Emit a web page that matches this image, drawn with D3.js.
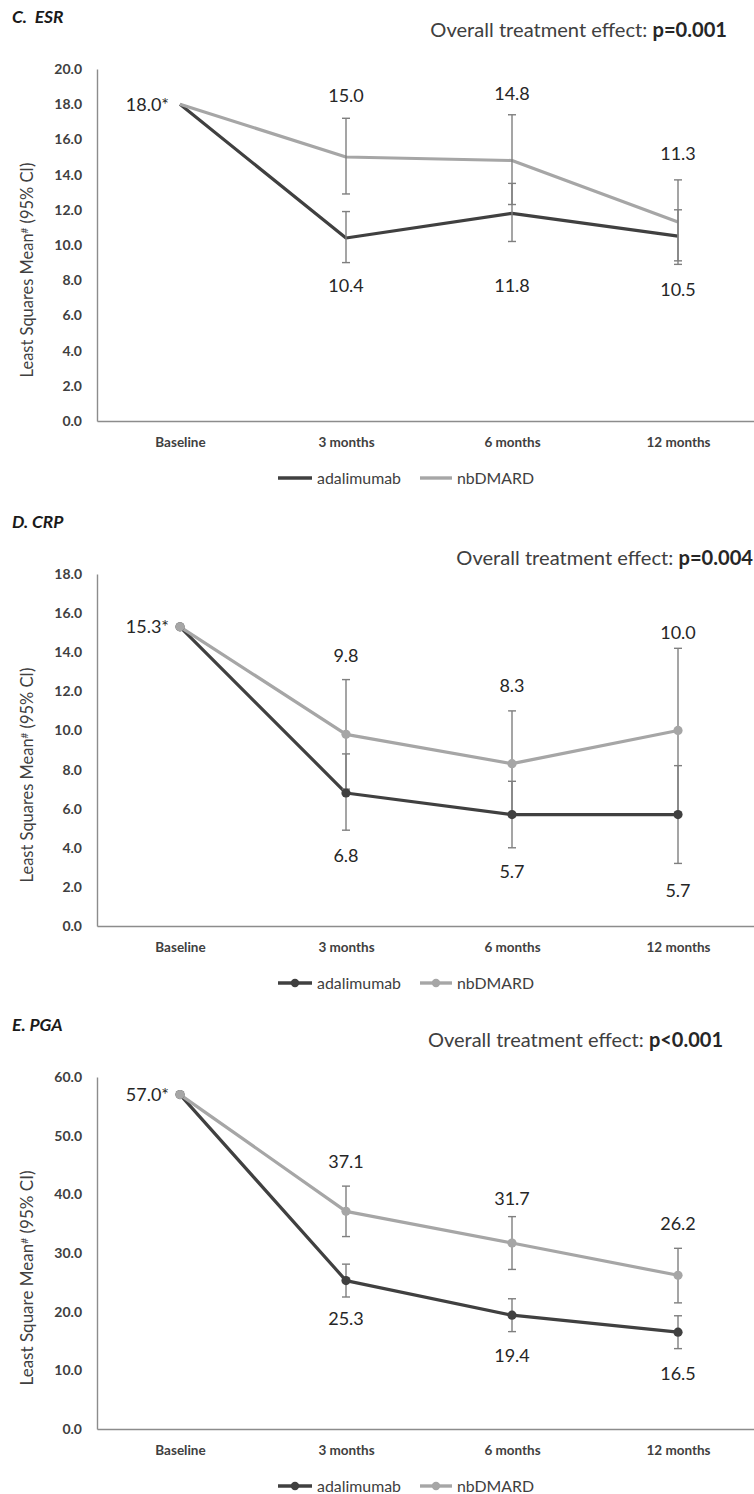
<!DOCTYPE html>
<html>
<head>
<meta charset="utf-8">
<script src="https://cdn.jsdelivr.net/npm/d3@7"></script>
<style>
  body { margin: 0; background: #fff; }
  svg { display: block; }
  text { font-family: Lato, "Open Sans", "DejaVu Sans", sans-serif; }
</style>
</head>
<body>
<svg id="chart" width="754" height="1494"></svg>
<script>
// ---- data ----
const categories = ["Baseline", "3 months", "6 months", "12 months"];
const seriesNames = ["adalimumab", "nbDMARD"];

// ESR
const esrAdalimumab = [18.0, 10.4, 11.8, 10.5];
const esrAdalimumabLow = [null, 9.0, 10.2, 9.1];
const esrAdalimumabHigh = [null, 11.9, 13.5, 12.0];
const esrNbDMARD = [18.0, 15.0, 14.8, 11.3];
const esrNbDMARDLow = [null, 12.9, 12.3, 8.9];
const esrNbDMARDHigh = [null, 17.2, 17.4, 13.7];
const esrTicks = [0, 2, 4, 6, 8, 10, 12, 14, 16, 18, 20];

// CRP
const crpAdalimumab = [15.3, 6.8, 5.7, 5.7];
const crpAdalimumabLow = [null, 4.9, 4.0, 3.2];
const crpAdalimumabHigh = [null, 8.8, 7.4, 8.2];
const crpNbDMARD = [15.3, 9.8, 8.3, 10.0];
const crpNbDMARDLow = [null, 7.0, 5.6, 5.8];
const crpNbDMARDHigh = [null, 12.6, 11.0, 14.2];
const crpTicks = [0, 2, 4, 6, 8, 10, 12, 14, 16, 18];

// PGA
const pgaAdalimumab = [57.0, 25.3, 19.4, 16.5];
const pgaAdalimumabLow = [null, 22.5, 16.6, 13.7];
const pgaAdalimumabHigh = [null, 28.1, 22.2, 19.3];
const pgaNbDMARD = [57.0, 37.1, 31.7, 26.2];
const pgaNbDMARDLow = [null, 32.8, 27.2, 21.5];
const pgaNbDMARDHigh = [null, 41.4, 36.2, 30.8];
const pgaTicks = [0, 10, 20, 30, 40, 50, 60];

const panelTitles = ["C.\u00a0 ESR", "D. CRP", "E. PGA"];
const pValues = ["p=0.001", "p=0.004", "p<0.001"];
const yTitles = ["Least Squares Mean", "Least Squares Mean", "Least Square Mean"];

// ---- layout ----
// value-label distance (px) from the end of each error bar
const esrLabelGapAda = [0, 23, 44, 29];
const esrLabelGapNb = [0, 23, 21, 26];
const crpLabelGapAda = [0, 26, 24, 27];
const crpLabelGapNb = [0, 24, 25, 16];
const pgaLabelGapAda = [0, 22, 24, 25];
const pgaLabelGapNb = [0, 24, 18, 25];

const panels = [
  { title: panelTitles[0], p: pValues[0], yTitle: yTitles[0], ticks: esrTicks, markers: false,
    ada: esrAdalimumab, adaLow: esrAdalimumabLow, adaHigh: esrAdalimumabHigh,
    nb: esrNbDMARD, nbLow: esrNbDMARDLow, nbHigh: esrNbDMARDHigh,
    gapAda: esrLabelGapAda, gapNb: esrLabelGapNb,
    top: 0, pEnd: 727, pY: 30, pWidth: 297 },
  { title: panelTitles[1], p: pValues[1], yTitle: yTitles[1], ticks: crpTicks, markers: true,
    ada: crpAdalimumab, adaLow: crpAdalimumabLow, adaHigh: crpAdalimumabHigh,
    nb: crpNbDMARD, nbLow: crpNbDMARDLow, nbHigh: crpNbDMARDHigh,
    gapAda: crpLabelGapAda, gapNb: crpLabelGapNb,
    top: 505, pEnd: 753, pY: 53, pWidth: 297 },
  { title: panelTitles[2], p: pValues[2], yTitle: yTitles[2], ticks: pgaTicks, markers: true,
    ada: pgaAdalimumab, adaLow: pgaAdalimumabLow, adaHigh: pgaAdalimumabHigh,
    nb: pgaNbDMARD, nbLow: pgaNbDMARDLow, nbHigh: pgaNbDMARDHigh,
    gapAda: pgaLabelGapAda, gapNb: pgaLabelGapNb,
    top: 1008, pEnd: 723, pY: 32, pWidth: 295 }
];

const colAda = "#404040";
const colNb = "#a6a6a6";
const colErr = "#7f7f7f";
const colAxis = "#8c8c8c";
const colText = "#404040";

const plotLeft = 97, plotRight = 761, plotTop = 69, plotBottom = 421;
const fmt = d3.format(".1f");

const svg = d3.select("#chart");

function fitWidth(sel, w) {
  const cur = sel.node().getComputedTextLength();
  const fs = parseFloat(sel.attr("font-size"));
  sel.attr("font-size", (fs * w / cur).toFixed(2));
}

panels.forEach(pn => {
  const g = svg.append("g").attr("transform", `translate(0,${pn.top})`);

  const x = d3.scalePoint().domain(categories).range([plotLeft, plotRight]).padding(0.5);
  const y = d3.scaleLinear().domain([0, d3.max(pn.ticks)]).range([plotBottom, plotTop]);

  // panel title
  g.append("text")
    .attr("x", 12).attr("y", 17).attr("dy", "0.35em")
    .attr("font-size", 17.5).attr("font-weight", 700).attr("font-style", "italic")
    .attr("fill", "#1a1a1a").style("white-space", "pre")
    .text(pn.title);

  // overall treatment effect
  const pt = g.append("text")
    .attr("x", pn.pEnd).attr("y", pn.pY).attr("dy", "0.35em")
    .attr("text-anchor", "end").attr("font-size", 17).attr("fill", colText);
  pt.append("tspan").text("Overall treatment effect: ");
  pt.append("tspan").attr("font-weight", 700).attr("fill", "#262626").text(pn.p);
  fitWidth(pt, pn.pWidth);

  // y axis
  const ya = g.append("g").attr("transform", `translate(${plotLeft},0)`)
    .call(d3.axisLeft(y).tickValues(pn.ticks).tickSize(0).tickPadding(15).tickFormat(fmt));
  ya.select(".domain").attr("stroke", colAxis).attr("stroke-width", 1.4);
  ya.selectAll("text").attr("font-size", 14).attr("font-weight", 700)
    .attr("fill", colText).attr("font-family", "Lato, sans-serif");

  // x axis
  const xa = g.append("g").attr("transform", `translate(0,${plotBottom})`)
    .call(d3.axisBottom(x).tickSize(0).tickPadding(16));
  xa.select(".domain").attr("stroke", colAxis).attr("stroke-width", 1.4);
  xa.selectAll("text").attr("font-size", 13.5).attr("font-weight", 700)
    .attr("fill", colText).attr("font-family", "Lato, sans-serif");

  // y axis title
  const yt = g.append("text")
    .attr("transform", "translate(27,270) rotate(-90)")
    .attr("text-anchor", "middle").attr("dy", "0.35em")
    .attr("font-size", 15).attr("fill", colText);
  yt.append("tspan").text(pn.yTitle);
  yt.append("tspan").attr("font-size", "60%").attr("dy", "-0.5em").text("#");
  yt.append("tspan").attr("dy", "0.3em").text(" (95% CI)");
  fitWidth(yt, 215);

  const series = [
    { name: seriesNames[0], vals: pn.ada, low: pn.adaLow, high: pn.adaHigh, gap: pn.gapAda, color: colAda, below: true },
    { name: seriesNames[1], vals: pn.nb, low: pn.nbLow, high: pn.nbHigh, gap: pn.gapNb, color: colNb, below: false }
  ];

  const line = d3.line()
    .x((d, i) => x(categories[i]))
    .y(d => y(d));

  // lines
  series.forEach(s => {
    g.append("path").datum(s.vals)
      .attr("d", line).attr("fill", "none")
      .attr("stroke", s.color).attr("stroke-width", 3.2)
      .attr("stroke-linejoin", "round");
  });

  // error bars
  series.forEach(s => {
    const eb = g.append("g").attr("stroke", colErr).attr("stroke-width", 1.4);
    categories.forEach((c, i) => {
      if (s.low[i] == null) return;
      const cx = x(c), y0 = y(s.low[i]), y1 = y(s.high[i]);
      eb.append("line").attr("x1", cx).attr("x2", cx).attr("y1", y0).attr("y2", y1);
      eb.append("line").attr("x1", cx - 4).attr("x2", cx + 4).attr("y1", y0).attr("y2", y0);
      eb.append("line").attr("x1", cx - 4).attr("x2", cx + 4).attr("y1", y1).attr("y2", y1);
    });
  });

  // markers
  if (pn.markers) {
    series.forEach(s => {
      g.append("g").selectAll("circle").data(s.vals).join("circle")
        .attr("cx", (d, i) => x(categories[i])).attr("cy", d => y(d))
        .attr("r", 4.6).attr("fill", s.color);
    });
  }

  // value labels
  const labels = g.append("g").attr("font-size", 18).attr("fill", "#262626");
  labels.append("text")
    .attr("x", x(categories[0]) - 11).attr("y", y(pn.nb[0])).attr("dy", "0.35em")
    .attr("text-anchor", "end").text(fmt(pn.nb[0]) + "*");
  series.forEach(s => {
    categories.forEach((c, i) => {
      if (i === 0) return;
      const ly = s.below ? y(s.low[i]) + s.gap[i] : y(s.high[i]) - s.gap[i];
      labels.append("text")
        .attr("x", x(c)).attr("y", ly).attr("dy", "0.35em")
        .attr("text-anchor", "middle").text(fmt(s.vals[i]));
    });
  });

  // legend
  const lg = g.append("g").attr("transform", "translate(0,478)");
  const legendItems = [
    { name: seriesNames[0], color: colAda, x0: 278, x1: 312, tx: 317 },
    { name: seriesNames[1], color: colNb, x0: 420, x1: 452, tx: 457 }
  ];
  legendItems.forEach(it => {
    lg.append("line").attr("x1", it.x0).attr("x2", it.x1).attr("y1", 0).attr("y2", 0)
      .attr("stroke", it.color).attr("stroke-width", 3.4);
    if (pn.markers) {
      lg.append("circle").attr("cx", (it.x0 + it.x1) / 2).attr("cy", 0)
        .attr("r", 4.2).attr("fill", it.color);
    }
    const t = lg.append("text").attr("x", it.tx).attr("y", 0).attr("dy", "0.35em")
      .attr("font-size", 14).attr("fill", colText).text(it.name);
  });
  // legend label sizes follow the measured width of the first entry
  const first = lg.select("text");
  const scale = 84 / first.node().getComputedTextLength();
  lg.selectAll("text").attr("font-size", (14 * scale).toFixed(2));
});
</script>
</body>
</html>
